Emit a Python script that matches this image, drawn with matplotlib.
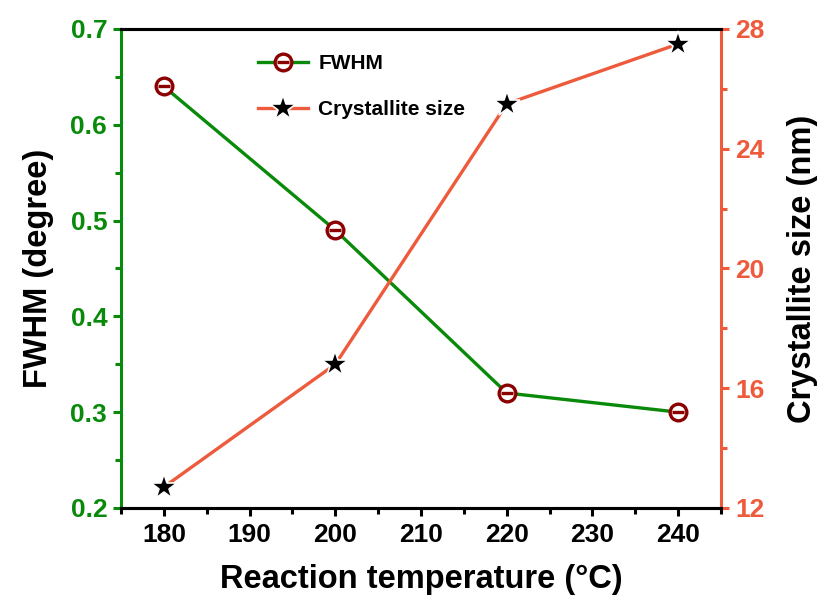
import matplotlib
matplotlib.use("Agg")
import matplotlib.pyplot as plt
from matplotlib.ticker import MultipleLocator
from matplotlib.legend_handler import HandlerTuple

plt.rcParams['font.family'] = ['Liberation Sans', 'DejaVu Sans']
plt.rcParams['font.weight'] = 'bold'

temperature = [180, 200, 220, 240]
fwhm = [0.64, 0.49, 0.32, 0.30]
crystallite = [12.7, 16.8, 25.5, 27.5]

GREEN = '#0a8a0a'
ORANGE = '#ee5a3c'
DARKRED = '#8b0000'

fig = plt.figure(figsize=(8.2, 5.99), dpi=100)
ax = fig.add_axes([0.1476, 0.152, 0.7317, 0.7996])
ax2 = ax.twinx()

l1, = ax.plot(temperature, fwhm, color=GREEN, lw=2.4, marker='o', ms=12,
              mfc='white', mec=DARKRED, mew=2.4, zorder=3)
l1b, = ax.plot(temperature, fwhm, ls='none', marker='_', ms=9, mec=DARKRED,
               mew=2.4, zorder=4)
l2, = ax2.plot(temperature, crystallite, color=ORANGE, lw=2.4, marker='*', ms=19,
               mfc='black', mec='white', mew=1.2, zorder=3)

ax.set_xlim(175, 245)
ax.set_ylim(0.2, 0.7)
ax2.set_ylim(12, 28)

ax.xaxis.set_major_locator(MultipleLocator(10))
ax.xaxis.set_minor_locator(MultipleLocator(5))
ax.yaxis.set_major_locator(MultipleLocator(0.1))
ax.yaxis.set_minor_locator(MultipleLocator(0.05))
ax2.yaxis.set_major_locator(MultipleLocator(4))
ax2.yaxis.set_minor_locator(MultipleLocator(2))

for a in (ax, ax2):
    for s in a.spines.values():
        s.set_linewidth(2.2)
ax.spines['left'].set_color(GREEN)
ax2.spines['left'].set_visible(False)
ax.spines['right'].set_visible(False)
ax2.spines['right'].set_color(ORANGE)
ax.spines['top'].set_color('black')
ax.spines['bottom'].set_color('black')

TS = 19
ax.tick_params(axis='x', which='major', direction='out', length=6, width=2.2,
               colors='black', labelsize=TS, pad=5)
ax.tick_params(axis='x', which='minor', direction='out', length=4, width=2.2, colors='black')
ax.tick_params(axis='y', which='major', direction='out', length=6, width=2.2,
               colors=GREEN, labelsize=TS, pad=4)
ax.tick_params(axis='y', which='minor', direction='out', length=4, width=2.2, colors=GREEN)
ax2.tick_params(axis='y', which='major', direction='out', length=6, width=2.2,
                colors=ORANGE, labelsize=TS, pad=4)
ax2.tick_params(axis='y', which='minor', direction='out', length=4, width=2.2, colors=ORANGE)

for lab in ax.get_xticklabels() + ax.get_yticklabels() + ax2.get_yticklabels():
    lab.set_fontweight('bold')

LS = 23.5
ax.set_xlabel('Reaction temperature (°C)', fontsize=LS, fontweight='bold', labelpad=12)
ax.set_ylabel('FWHM (degree)', fontsize=LS, fontweight='bold', labelpad=12)
ax2.set_ylabel('Crystallite size (nm)', fontsize=LS, fontweight='bold', labelpad=16)

leg = ax.legend([(l1, l1b), l2], ['FWHM', 'Crystallite size'],
                handler_map={tuple: HandlerTuple(ndivide=1)},
                loc='upper left', bbox_to_anchor=(0.228, 0.948), frameon=False,
                prop={'size': 15, 'weight': 'bold'}, labelspacing=1.3,
                handlelength=2.4, handletextpad=0.5, borderpad=0, borderaxespad=0)

fig.savefig('out.png', dpi=100)
